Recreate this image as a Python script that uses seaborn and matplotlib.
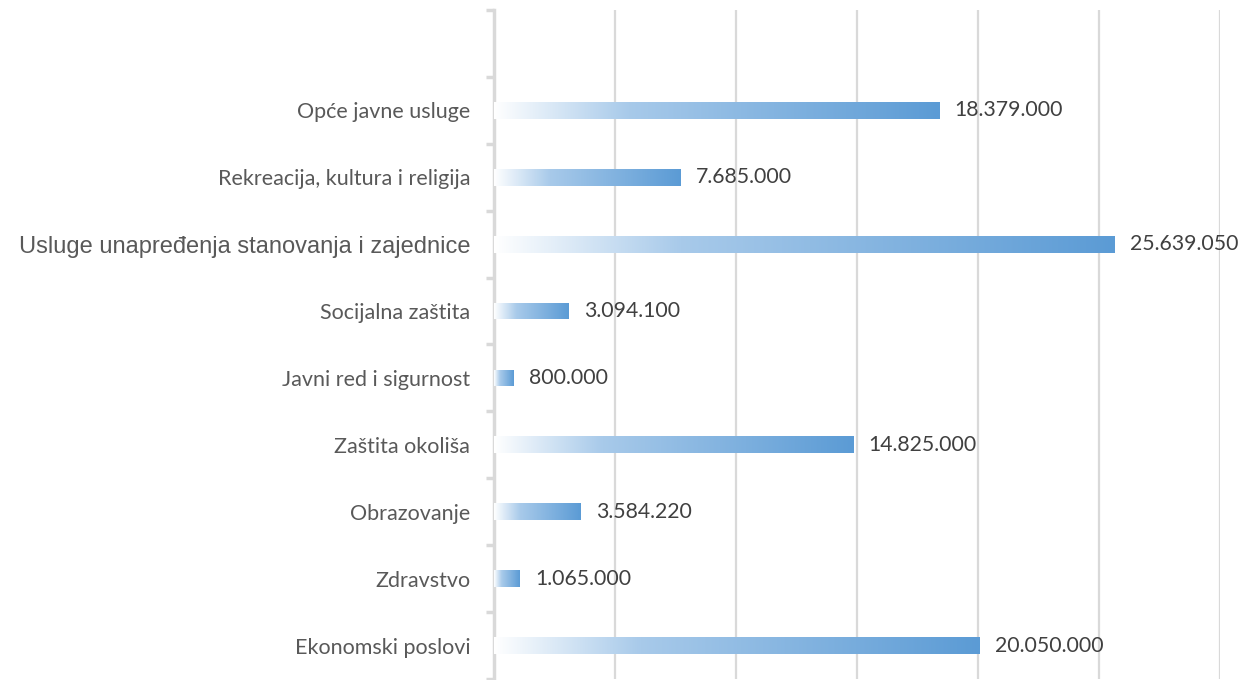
import numpy as np
import matplotlib
matplotlib.use('Agg')
import matplotlib.pyplot as plt
import seaborn as sns
from matplotlib.colors import LinearSegmentedColormap
from matplotlib.ticker import FixedLocator

categories = [
    'Opće javne usluge',
    'Rekreacija, kultura i religija',
    'Usluge unapređenja stanovanja i zajednice',
    'Socijalna zaštita',
    'Javni red i sigurnost',
    'Zaštita okoliša',
    'Obrazovanje',
    'Zdravstvo',
    'Ekonomski poslovi',
]
values = [18379000, 7685000, 25639050, 3094100, 800000, 14825000, 3584220, 1065000, 20050000]
value_labels = ['18.379.000', '7.685.000', '25.639.050', '3.094.100', '800.000',
                '14.825.000', '3.584.220', '1.065.000', '20.050.000']

sns.set_style('white')
plt.rcParams['font.family'] = ['Lato', 'DejaVu Sans']

fig = plt.figure(figsize=(12.47, 6.8), dpi=100)
ax = fig.add_axes([0.396, 0.0015, 0.5826, 0.9838])

sns.barplot(x=values, y=categories, orient='h', width=0.25, color='#5b9bd5', ax=ax)

# gradient fill, white -> blue along each bar
grad = LinearSegmentedColormap.from_list(
    'bar_grad', [(0.0, '#ffffff'), (0.3, '#a8caea'), (1.0, '#5b9bd5')])
ramp = np.linspace(0, 1, 256).reshape(1, -1)
for p in ax.patches:
    x0, y0 = p.get_x(), p.get_y()
    w, h = p.get_width(), p.get_height()
    im = ax.imshow(ramp, cmap=grad, aspect='auto', extent=[x0, x0 + w, y0 + h, y0],
                   zorder=3, interpolation='bilinear')
    im.set_clip_path(p)
    p.set_facecolor('none')
    p.set_edgecolor('none')

ax.set_xlim(0, 30000000)
ax.set_ylim(len(categories) - 0.5, -1.5)

ax.set_xticks(np.arange(0, 30000001, 5000000))
ax.set_xticklabels([])
ax.tick_params(axis='x', length=0)
ax.grid(axis='x', color='#d9d9d9', linewidth=1.6, zorder=0)
ax.set_axisbelow(True)

ax.yaxis.set_minor_locator(FixedLocator(np.arange(-1.5, len(categories), 1.0)))
ax.tick_params(axis='y', which='major', left=False, length=0, pad=17,
               labelsize=15.5, labelcolor='#595959')
ax.tick_params(axis='y', which='minor', left=True, length=6, width=2.5, color='#d9d9d9')
for lbl in ax.get_yticklabels():
    if lbl.get_text().startswith('Usluge'):
        lbl.set_fontfamily(['Liberation Sans', 'DejaVu Sans'])
        lbl.set_fontsize(17)

for s in ['top', 'right', 'bottom']:
    ax.spines[s].set_visible(False)
ax.spines['left'].set_color('#d9d9d9')
ax.spines['left'].set_linewidth(2.5)
ax.set_xlabel('')
ax.set_ylabel('')

for i, (v, t) in enumerate(zip(values, value_labels)):
    ax.text(v + 650000, i, t, va='center', ha='left', fontsize=15.3, color='#404040')

fig.savefig('out.png', dpi=100)
